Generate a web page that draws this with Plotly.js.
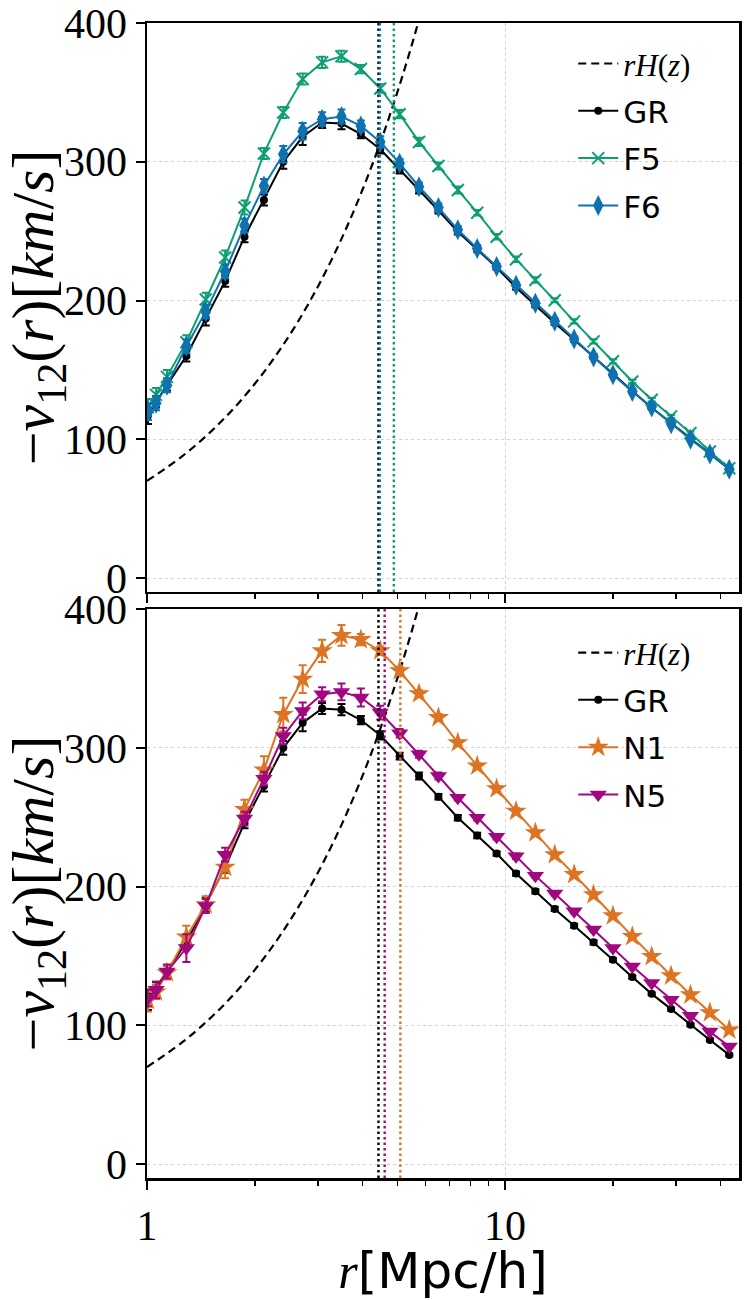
<!DOCTYPE html>
<html>
<head>
<meta charset="utf-8">
<script src="https://cdn.plot.ly/plotly-3.0.1.min.js"></script>
<style>html,body{margin:0;padding:0;background:#fff;}</style>
</head>
<body>
<div id="chart" style="width:747px;height:1300px;"></div>
<script>
// separation r [Mpc/h]
const r = [1.006, 1.060, 1.137, 1.288, 1.459, 1.653, 1.872, 2.121, 2.402, 2.721, 3.083, 3.492, 3.956, 4.481, 5.076, 5.750,
           6.514, 7.379, 8.359, 9.469, 10.73, 12.15, 13.76, 15.59, 17.66, 20.01, 22.66, 25.67, 29.08, 32.94, 37.32, 42.27];
// -v12(r) [km/s]
const gr  = [117, 127, 139, 160, 187, 214, 246, 272.5, 300, 318, 328.3, 327.5, 320, 309, 294, 279.7,
             264.8, 249.6, 236.8, 223.8, 209.4, 196.6, 183.9, 171.8, 159.8, 147.3, 134.8, 122.7, 111.7, 100.4, 89.5, 78.7];
const grErr = [6, 4, 4, 4, 5, 4, 4, 4, 5, 6, 4, 4, 3, 3, 2.5, 2.5, 2, 2, 2, 1.5, 1.5, 1.5, 1.5, 1.5, 1.5, 1.2, 1.2, 1, 1, 1, 1, 1];
const f5  = [123, 132, 145, 170, 200.7, 231, 267, 306, 335.5, 359.6, 371.6, 376, 366.8, 352.8, 334.3, 314.3,
             297, 279.7, 263.3, 246, 229.8, 214.8, 200.2, 185, 170.6, 156.2, 141.7, 128.5, 116.5, 104.5, 91.2, 79.2];
const f5Err = [6, 5, 5, 5, 5, 5, 5, 4, 4, 4, 4, 4, 3, 3, 3, 3, 2.5, 2.5, 2, 2, 2, 2, 1.5, 1.5, 1.5, 1.5, 1.2, 1.2, 1, 1, 1, 1];
const f6  = [120, 126, 139, 167, 192, 221, 254, 282.5, 305.4, 322, 330.7, 332.6, 325.8, 314.3, 298.9, 282,
             267, 251, 237.5, 224.5, 211, 198, 185, 172.3, 159.3, 146.6, 134.5, 123.2, 111.2, 100.1, 89.5, 78.5];
const f6Err = [6, 5, 5, 5, 5, 5, 5, 5, 6, 6, 5, 5, 4, 4, 3, 3, 3, 2.5, 2.5, 2, 2, 2, 2, 2, 1.5, 1.5, 1.5, 1.2, 1.2, 1, 1, 1];
const n1  = [118, 124, 138, 163.7, 187, 214, 255.6, 284, 324, 349.5, 369.9, 381, 378, 370, 355.5, 339,
             321.8, 303.7, 286.9, 270.5, 254.4, 238.8, 223, 208.7, 194.2, 179, 164.1, 149.7, 135.7, 122, 109.2, 96.7];
const n1Err = [8, 5, 5, 8, 6, 8, 7, 10, 12, 10, 8, 7.5, 4, 3, 3, 2.5, 2.5, 2, 2, 2, 2, 1.5, 1.5, 1.5, 1.5, 1.5, 1.2, 1.2, 1, 1, 1, 1];
const n5  = [119.6, 125.6, 138.8, 155.7, 186, 223, 249, 277.8, 308.5, 326.6, 338.6, 340.3, 336.3, 325.4, 310.5, 295.3,
             279.7, 264, 249.6, 235.9, 221.9, 207.9, 195, 182.2, 169, 155.7, 142.5, 130.5, 118.4, 106.9, 95.5, 84.7];
const n5Err = [6, 6, 5, 10, 5, 5, 5, 5, 6, 6, 5, 6, 6.5, 5, 3, 2.5, 2.5, 2, 2, 2, 2, 1.5, 1.5, 1.5, 1.5, 1.5, 1.2, 1.2, 1, 1, 1, 1];
// rH(z) reference line
const rH_r = [1, 1.25, 1.5, 1.75, 2, 2.25, 2.5, 2.75, 3, 3.25, 3.5, 3.75, 4, 4.25, 4.5, 4.75, 5, 5.25, 5.5, 5.75, 6];
const rH_v = [70, 87.5, 105, 122.5, 140, 157.5, 175, 192.5, 210, 227.5, 245, 262.5, 280, 297.5, 315, 332.5, 350, 367.5, 385, 402.5, 420];
// crossing radii (vertical dotted lines)
const crossTop = [4.43, 4.47, 4.89];
const crossBot = [4.43, 4.61, 5.10];
// tick labels
const xTickVals = [1, 10];
const xTickText = ['1', '10'];
const xMinorVals = [2, 3, 4, 5, 6, 7, 8, 9, 20, 30, 40];
const yTickVals = [0, 100, 200, 300, 400];
const yTickText = ['0', '100', '200', '300', '400'];

const C = {gr: '#000000', f5: '#0e9e74', f6: '#0f72b0', n1: '#dd7423', n5: '#a1087f'};
const sans = 'DejaVu Sans';
const serif = 'Liberation Serif';

function series(x, y, err, name, color, sym, size, xa, ya, leg, open) {
  return {
    x: x, y: y, name: name, type: 'scatter', mode: 'lines+markers',
    xaxis: xa, yaxis: ya, legend: leg, legendgroup: leg + name,
    line: {color: color, width: 2},
    marker: open ? {symbol: sym, size: size, color: color, line: {color: color, width: 2}}
                 : {symbol: sym, size: size, color: color, line: {width: 0}},
    error_y: {type: 'data', array: err, visible: true, color: color, thickness: 2, width: 4}
  };
}
const rHname = '<span style="font-family:Liberation Serif;font-style:italic">rH</span><span style="font-family:Liberation Serif">(</span><span style="font-family:Liberation Serif;font-style:italic">z</span><span style="font-family:Liberation Serif">)</span>';
function rHtrace(xa, ya, leg) {
  return {x: rH_r, y: rH_v, name: rHname, type: 'scatter', mode: 'lines', xaxis: xa, yaxis: ya, legend: leg,
          legendgroup: leg + 'rH',
          line: {color: '#000', width: 2.2, dash: '8px,5px', shape: 'spline'}};
}

const data = [
  rHtrace('x2', 'y2', 'legend'),
  series(r, gr, grErr, 'GR', C.gr, 'circle', 8, 'x2', 'y2', 'legend'),
  series(r, f5, f5Err, 'F5', C.f5, 'x-thin-open', 12, 'x2', 'y2', 'legend', true),
  series(r, f6, f6Err, 'F6', C.f6, 'diamond-tall', 15, 'x2', 'y2', 'legend'),
  rHtrace('x', 'y', 'legend2'),
  series(r, gr, grErr, 'GR', C.gr, 'circle', 8, 'x', 'y', 'legend2'),
  series(r, n1, n1Err, 'N1', C.n1, 'star', 16, 'x', 'y', 'legend2'),
  series(r, n5, n5Err, 'N5', C.n5, 'triangle-down', 15, 'x', 'y', 'legend2')
];

const shapes = [];
const topCols = [C.gr, C.f6, C.f5];
const botCols = [C.gr, C.n5, C.n1];
crossTop.forEach((v, i) => shapes.push({type: 'line', xref: 'x2', yref: 'y2 domain', x0: v, x1: v, y0: 0, y1: 1,
  line: {color: topCols[i], width: 2.4, dash: '2.5px,3px'}}));
crossBot.forEach((v, i) => shapes.push({type: 'line', xref: 'x', yref: 'y domain', x0: v, x1: v, y0: 0, y1: 1,
  line: {color: botCols[i], width: 2.4, dash: '2.5px,3px'}}));

const xRange = [0, Math.log10(45)];
function xAxis(labels, anchor) {
  return {
    type: 'log', range: xRange, anchor: anchor,
    tickmode: 'array', tickvals: xTickVals, ticktext: labels ? xTickText : ['', ''],
    showticklabels: labels,
    ticks: 'outside', ticklen: 9, tickwidth: 2, tickcolor: '#000',
    minor: {tickmode: 'array', tickvals: xMinorVals, ticks: 'outside', ticklen: 5, tickwidth: 1.5, tickcolor: '#000', showgrid: false},
    showline: true, linewidth: 2.5, linecolor: '#000', mirror: true,
    showgrid: true, gridcolor: '#c8c8c8', gridwidth: 0.8, griddash: 'dot',
    zeroline: false,
    tickfont: {family: serif, size: 42, color: '#000'}
  };
}
const yTitle = '−<i>v</i><sub>12</sub>(<i>r</i>)[<i>km</i>/<i>s</i>]';
function yAxis(domain, anchor) {
  return {
    domain: domain, range: [-10, 400], anchor: anchor,
    tickmode: 'array', tickvals: yTickVals, ticktext: yTickText,
    ticks: 'outside', ticklen: 9, tickwidth: 2, tickcolor: '#000',
    showline: true, linewidth: 2.5, linecolor: '#000', mirror: true,
    showgrid: true, gridcolor: '#c8c8c8', gridwidth: 0.8, griddash: 'dot',
    zeroline: false,
    tickfont: {family: serif, size: 42, color: '#000'},
    title: {text: yTitle, font: {family: serif, size: 60, color: '#000'}, standoff: 2}
  };
}

const legendBase = {xanchor: 'left', yanchor: 'top', bgcolor: 'rgba(255,255,255,0)',
                    font: {family: sans, size: 31, color: '#000'}, tracegroupgap: 4, itemwidth: 40};

const layout = {
  width: 747, height: 1300,
  margin: {l: 147, r: 8, t: 23, b: 122},
  paper_bgcolor: '#fff', plot_bgcolor: '#fff',
  showlegend: true,
  xaxis: Object.assign(xAxis(true, 'y'), {
    title: {text: '<span style="font-family:Liberation Serif;font-style:italic">r</span>[Mpc/h]',
            font: {family: sans, size: 50, color: '#000'}, standoff: 4}
  }),
  yaxis: yAxis([0, 0.4926], 'x'),
  xaxis2: Object.assign(xAxis(false, 'y2'), {matches: 'x'}),
  yaxis2: yAxis([0.5074, 1], 'x2'),
  legend: Object.assign({x: 0.72, y: 0.988}, legendBase),
  legend2: Object.assign({x: 0.72, y: 0.478}, legendBase),
  shapes: shapes
};

Plotly.newPlot('chart', data, layout, {displayModeBar: false, staticPlot: true});
</script>
</body>
</html>
